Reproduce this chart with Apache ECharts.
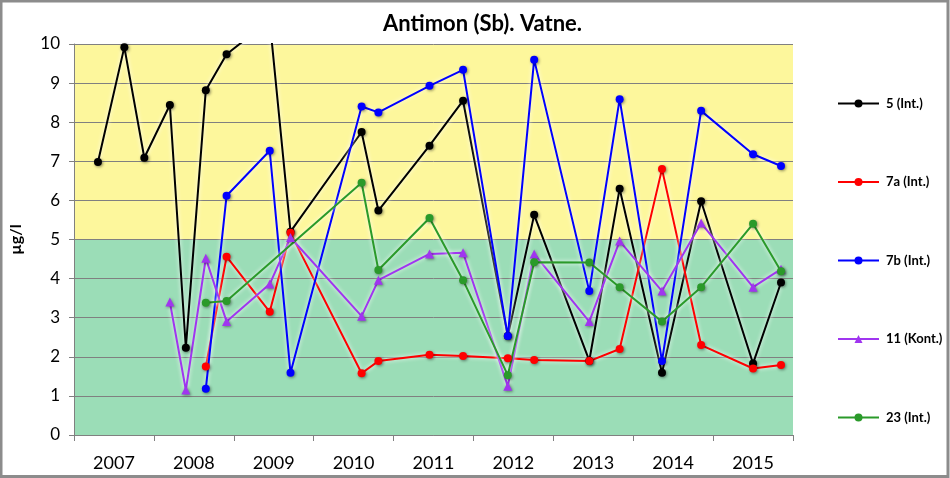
<!DOCTYPE html>
<html>
<head>
<meta charset="utf-8">
<script src="https://cdn.jsdelivr.net/npm/echarts@6/dist/echarts.min.js"></script>
<style>
html,body{margin:0;padding:0;background:#fff;}
#chart{width:950px;height:478px;}
</style>
</head>
<body>
<div id="chart"></div>
<script>
// ---- data (x = decimal year of sampling, y = µg/l) ----
const yearLabels = ['2007','2008','2009','2010','2011','2012','2013','2014','2015'];
const yTicks = [0,1,2,3,4,5,6,7,8,9,10];

const x5  = [2007.30,2007.63,2007.88,2008.20,2008.40,2008.65,2008.91,2009.45,2009.71,2010.60,2010.81,2011.45,2011.87,2012.43,2012.76,2013.45,2013.83,2014.36,2014.85,2015.50,2015.85];
const y5  = [6.98,9.92,7.09,8.44,2.23,8.82,9.74,10.6,5.2,7.75,5.74,7.40,8.55,2.53,5.63,1.90,6.30,1.59,5.98,1.83,3.90];

const x7a = [2008.65,2008.91,2009.45,2009.71,2010.60,2010.81,2011.45,2011.87,2012.43,2012.76,2013.45,2013.83,2014.36,2014.85,2015.50,2015.85];
const y7a = [1.75,4.56,3.15,5.17,1.58,1.89,2.05,2.02,1.96,1.92,1.89,2.20,6.80,2.30,1.70,1.79];

const x7b = [2008.65,2008.91,2009.45,2009.71,2010.60,2010.81,2011.45,2011.87,2012.43,2012.76,2013.45,2013.83,2014.36,2014.85,2015.50,2015.85];
const y7b = [1.18,6.12,7.27,1.59,8.40,8.25,8.93,9.34,2.53,9.60,3.68,8.59,1.89,8.29,7.18,6.88];

const x11 = [2008.20,2008.40,2008.65,2008.91,2009.45,2009.71,2010.60,2010.81,2011.45,2011.87,2012.43,2012.76,2013.45,2013.83,2014.36,2014.85,2015.50,2015.85];
const y11 = [3.40,1.15,4.52,2.90,3.86,5.05,3.04,3.96,4.63,4.66,1.25,4.63,2.90,4.96,3.68,5.42,3.78,4.24];

const x23 = [2008.65,2008.91,2010.60,2010.81,2011.45,2011.87,2012.43,2012.76,2013.45,2013.83,2014.36,2014.85,2015.50,2015.85];
const y23 = [3.38,3.43,6.45,4.22,5.55,3.96,1.53,4.42,4.41,3.78,2.90,3.78,5.40,4.19];

const names = ['5 (Int.)','7a (Int.)','7b (Int.)','11 (Kont.)','23 (Int.)'];
const colors = ['#000000','#FF0000','#0000FF','#A035F0','#2A9A2A'];

const zip = (xs, ys) => xs.map((x, i) => [x, ys[i]]);
const FONT = 'Lato, "Open Sans", sans-serif';

function mkSeries(i, xs, ys, sym) {
  return {
    name: names[i],
    type: 'line',
    z: 5,
    data: zip(xs, ys),
    symbol: sym || 'circle',
    symbolSize: sym === 'triangle' ? 9 : 8,
    clip: true,
    lineStyle: { color: colors[i], width: 2, shadowColor: 'rgba(255,255,255,0.95)', shadowBlur: 4 },
    itemStyle: { color: colors[i], shadowColor: 'rgba(0,0,0,0.45)', shadowBlur: 3, shadowOffsetX: 1, shadowOffsetY: 1 },
    emphasis: { disabled: true },
    animation: false
  };
}

const chart = echarts.init(document.getElementById('chart'), null, { renderer: 'canvas' });
chart.setOption({
  animation: false,
  backgroundColor: '#ffffff',
  title: {
    text: 'Antimon (Sb). Vatne.',
    left: 378, top: 8,
    textStyle: { fontFamily: FONT, fontSize: 22, fontWeight: 'bold', color: '#000' }
  },
  grid: { left: 72, right: 157, top: 44, bottom: 43, containLabel: false },
  legend: {
    data: names,
    orient: 'vertical',
    left: 832, top: 92,
    itemWidth: 41, itemHeight: 10, itemGap: 65.5,
    textStyle: { fontFamily: FONT, fontSize: 13, fontWeight: 'bold', color: '#000', padding: [0,0,0,2] },
    selectedMode: false
  },
  xAxis: [
    {
      type: 'value', min: 2007, max: 2016, interval: 1,
      axisLine: { show: true, lineStyle: { color: '#808080', width: 1 } },
      axisTick: { show: true, inside: false, length: 6, lineStyle: { color: '#808080' } },
      axisLabel: { show: false },
      splitLine: { show: false }
    },
    {
      type: 'category', position: 'bottom', data: yearLabels, boundaryGap: true,
      axisLine: { show: false }, axisTick: { show: false },
      axisLabel: { fontFamily: FONT, fontSize: 18, color: '#000', margin: 19 },
      splitLine: { show: false }
    }
  ],
  yAxis: {
    type: 'value', min: 0, max: 10, interval: 1, z: 3,
    name: 'µg/l', nameLocation: 'middle', nameRotate: 90, nameGap: 50,
    nameTextStyle: { fontFamily: FONT, fontSize: 16, fontWeight: 'bold', color: '#000' },
    axisLine: { show: true, lineStyle: { color: '#808080', width: 1 } },
    axisTick: { show: true, length: 5, lineStyle: { color: '#808080' } },
    axisLabel: { fontFamily: FONT, fontSize: 17, color: '#000', margin: 14 },
    splitLine: { show: true, lineStyle: { color: '#808080', width: 1 } }
  },
  graphic: [{
    type: 'rect', silent: true, z: 100,
    shape: { x: 1, y: 1, width: 947, height: 475.5 },
    style: { fill: 'none', stroke: '#8c8c8c', lineWidth: 3 }
  }],
  series: [
    {
      name: 'bands', type: 'line', z: 1, data: [], silent: true,
      markArea: {
        silent: true,
        data: [
          [{ xAxis: 2007, yAxis: 5, itemStyle: { color: '#FDF79C' } }, { xAxis: 2016, yAxis: 10 }],
          [{ xAxis: 2007, yAxis: 0, itemStyle: { color: '#9BDDB7' } }, { xAxis: 2016, yAxis: 5 }]
        ]
      }
    },
    mkSeries(0, x5, y5),
    mkSeries(1, x7a, y7a),
    mkSeries(2, x7b, y7b),
    mkSeries(3, x11, y11, 'triangle'),
    mkSeries(4, x23, y23)
  ]
});
</script>
</body>
</html>
